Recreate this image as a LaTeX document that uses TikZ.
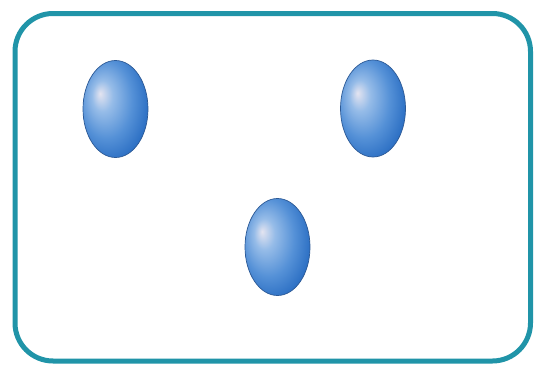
\documentclass[tikz,border=0pt]{standalone}
\usetikzlibrary{shapes.geometric}
\definecolor{frame}{RGB}{32,148,168}
\definecolor{bc0}{RGB}{228,228,240}
\definecolor{bc1}{RGB}{150,188,232}
\definecolor{bc2}{RGB}{85,145,215}
\definecolor{bc3}{RGB}{45,112,196}
\definecolor{bc4}{RGB}{35,95,170}
\definecolor{balledge}{RGB}{45,90,150}
\pgfdeclareradialshading{myball}{\pgfpoint{-12bp}{8bp}}{color(0bp)=(bc0); color(8bp)=(bc1); color(20bp)=(bc2); color(30bp)=(bc3); color(40bp)=(bc4); color(50bp)=(bc4)}
\tikzset{
  ballnode/.style={ellipse, minimum width=65pt, minimum height=97pt, inner sep=0pt,
    draw=balledge, line width=0.7pt, shading=myball},
  framebox/.style={draw=frame, line width=5pt, rounded corners=38pt}
}
\begin{document}
\begin{tikzpicture}[x=1pt,y=1pt]
\useasboundingbox (0,0) rectangle (536,368);
\fill[white] (0,0) rectangle (536,368);
\draw[framebox] (15,7) rectangle (530.5,354.5);
\node[ballnode] (b1) at (115.5,259) {};
\node[ballnode] (b2) at (373,259.5) {};
\node[ballnode] (b3) at (277.5,121) {};
\end{tikzpicture}
\end{document}
